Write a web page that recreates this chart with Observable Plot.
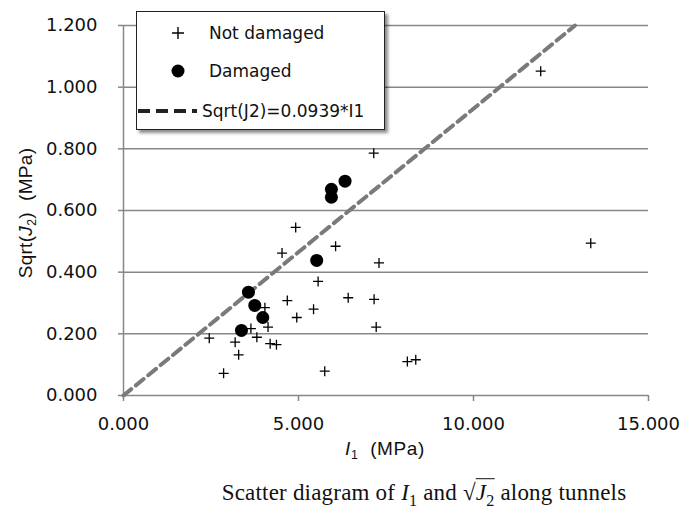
<!DOCTYPE html>
<html>
<head>
<meta charset="utf-8">
<script src="https://cdn.jsdelivr.net/npm/d3@7"></script>
<script src="https://cdn.jsdelivr.net/npm/@observablehq/plot@0.6"></script>
<style>
  html, body { margin: 0; padding: 0; background: #fff; }
  #wrap { position: relative; width: 680px; height: 511px; overflow: hidden; background: #fff; }
  #chart { position: absolute; left: 0; top: 0; }
  .lbl { position: absolute; white-space: nowrap; color: #111; }
  #ylabel { font-family: "Liberation Sans", Arial, sans-serif; font-size: 19px; left: 27px; top: 213px; transform: translate(-50%, -50%) rotate(-90deg); letter-spacing: 0.3px; }
  #xlabel { font-family: "Liberation Sans", Arial, sans-serif; font-size: 19px; left: 385px; top: 450px; transform: translate(-50%, -50%); letter-spacing: 0.6px; }
  #caption { font-family: "Liberation Serif", "Times New Roman", serif; font-size: 23px; left: 424px; top: 495px; transform: translate(-50%, -50%); color: #111; letter-spacing: 0.2px; }
  .rad { border-top: 1px solid #111; padding-top: 1px; }
  #legend { position: absolute; left: 136px; top: 11px; width: 247px; height: 117px; border: 1.5px solid #222; background: #fff; box-shadow: 3px 3px 3px rgba(0,0,0,0.45); font-family: "DejaVu Sans", sans-serif; font-size: 17px; color: #111; }
  .lrow { position: absolute; left: 0; height: 24px; display: flex; align-items: center; }
  .lrow svg { display: block; }
</style>
</head>
<body>
<div id="wrap">
  <div id="chart"></div>
  <div id="legend"></div>
  <div class="lbl" id="ylabel">Sqrt(<i>J</i><sub style="font-size:65%">2</sub>)&nbsp;&nbsp;(MPa)</div>
  <div class="lbl" id="xlabel"><i>I</i><sub style="font-size:65%">1</sub>&nbsp;&nbsp;(MPa)</div>
  <div class="lbl" id="caption">Scatter diagram of <i>I</i><sub style="font-size:70%">1</sub> and √<span class="rad"><i>J</i><sub style="font-size:70%">2</sub></span> along tunnels</div>
</div>
<script>
// ---- Data ----
const notDamagedI1 = [11.92, 7.15, 13.35, 6.06, 4.92, 4.53, 7.30, 5.56, 4.68, 6.42, 7.16, 5.43, 4.95, 4.04, 4.13, 7.22, 3.64, 3.81, 2.45, 3.19, 4.19, 4.37, 3.29, 8.11, 8.35, 2.86, 5.75];
const notDamagedJ2 = [1.052, 0.786, 0.494, 0.484, 0.545, 0.462, 0.430, 0.370, 0.308, 0.317, 0.312, 0.280, 0.253, 0.285, 0.222, 0.222, 0.217, 0.189, 0.186, 0.173, 0.168, 0.165, 0.132, 0.110, 0.116, 0.072, 0.079];
const damagedI1 = [5.52, 3.57, 3.75, 3.98, 3.37, 5.94, 5.94, 6.33];
const damagedJ2 = [0.438, 0.335, 0.292, 0.253, 0.211, 0.669, 0.643, 0.695];
const fitI1 = [0, 12.9];
const fitJ2 = [0, 1.2];
const xTicks = [0, 5, 10, 15];
const yTicks = [0, 0.2, 0.4, 0.6, 0.8, 1.0, 1.2];
const legendLabels = ["Not damaged", "Damaged", "Sqrt(J2)=0.0939*I1"];

const notDamaged = notDamagedI1.map((x, i) => ({x, y: notDamagedJ2[i]}));
const damaged = damagedI1.map((x, i) => ({x, y: damagedJ2[i]}));
const fit = fitI1.map((x, i) => ({x, y: fitJ2[i]}));

const plusSymbol = {
  draw(ctx, size) {
    const r = Math.sqrt(size / Math.PI);
    ctx.moveTo(-r, 0); ctx.lineTo(r, 0);
    ctx.moveTo(0, -r); ctx.lineTo(0, r);
  }
};

const gray = "#878787";
const chart = Plot.plot({
  width: 680,
  height: 470,
  marginLeft: 123,
  marginRight: 32,
  marginTop: 25,
  marginBottom: 75,
  style: { fontFamily: "DejaVu Sans, sans-serif", fontSize: "18px", color: "#111", background: "transparent" },
  x: { domain: [0, 15] },
  y: { domain: [0, 1.2] },
  marks: [
    Plot.gridY(yTicks.filter(d => d > 0), { stroke: gray, strokeOpacity: 1, strokeWidth: 1.5 }),
    Plot.ruleY([0], { stroke: gray, strokeWidth: 1.5 }),
    Plot.ruleX([0], { stroke: gray, strokeWidth: 1.5 }),
    Plot.axisX({ ticks: xTicks, tickFormat: d3.format(".3f"), tickSize: 6, tickPadding: 16, stroke: gray, strokeWidth: 1.5, fill: "#111", label: null }),
    Plot.axisY({ ticks: yTicks, tickFormat: d3.format(".3f"), tickSize: 5, tickPadding: 21, stroke: gray, strokeWidth: 1.5, fill: "#111", label: null }),
    Plot.line(fit, { x: "x", y: "y", stroke: "#7a7a7a", strokeWidth: 4, strokeDasharray: "10,6" }),
    Plot.dot(notDamaged, { x: "x", y: "y", symbol: plusSymbol, r: 5, fill: "none", stroke: "#000", strokeWidth: 1.3 }),
    Plot.dot(damaged, { x: "x", y: "y", r: 6.5, fill: "#000", stroke: "none" })
  ]
});
document.getElementById("chart").appendChild(chart);

// ---- Legend (HTML) ----
const legend = document.getElementById("legend");
const icons = [
  `<svg width="62" height="24"><path d="M35,12H47M41,6V18" stroke="#000" stroke-width="1.4" fill="none"/></svg>`,
  `<svg width="62" height="24"><circle cx="41" cy="12" r="6.5" fill="#000"/></svg>`,
  `<svg width="62" height="24"><line x1="1" y1="12" x2="60" y2="12" stroke="#222" stroke-width="4" stroke-dasharray="12,6"/></svg>`
];
const rowTops = [9, 47, 87];
const textGaps = [10, 10, 3];
legendLabels.forEach((t, i) => {
  const row = document.createElement("div");
  row.className = "lrow";
  row.style.top = rowTops[i] + "px";
  row.innerHTML = icons[i] + `<span style="margin-left:${textGaps[i]}px">${t}</span>`;
  legend.appendChild(row);
});
</script>
</body>
</html>
